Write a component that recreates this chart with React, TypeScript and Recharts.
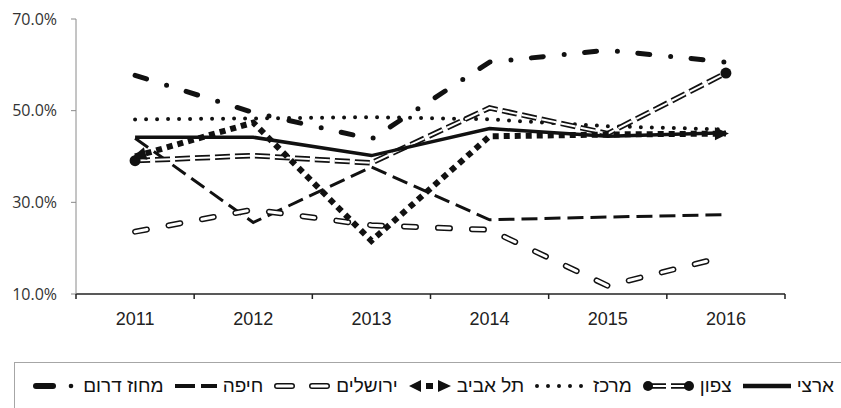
import React from 'react';
import { LineChart, Line, XAxis, YAxis } from 'recharts';

const years = ['2011', '2012', '2013', '2014', '2015', '2016'];

const national = [44.2, 44.2, 40.2, 46.1, 44.4, 45.2];
const north = [39.1, 40.2, 38.6, 50.6, 45.0, 58.2];
const center = [48.1, 48.3, 48.6, 48.1, 46.6, 45.9];
const telAviv = [40.0, 47.4, 21.6, 44.4, 44.8, 45.0];
const jerusalem = [23.6, 28.4, 25.0, 24.0, 11.8, 18.2];
const haifa = [44.0, 25.6, 37.7, 26.2, 26.8, 27.3];
const south = [57.7, 49.6, 43.8, 60.6, 63.2, 60.6];

const yTicks = [10, 30, 50, 70];

const labels = {
  national: 'ארצי',
  north: 'צפון',
  center: 'מרכז',
  telAviv: 'תל אביב',
  jerusalem: 'ירושלים',
  haifa: 'חיפה',
  south: 'מחוז דרום',
};

const data = years.map((year, i) => ({
  year,
  national: national[i],
  north: north[i],
  center: center[i],
  telAviv: telAviv[i],
  jerusalem: jerusalem[i],
  haifa: haifa[i],
  south: south[i],
}));

const W = 841;
const H = 408;
const MARGIN = { top: 19, right: 56, bottom: 84, left: 0 };
const Y_W = 76;
const X_H = 30;
const PLOT_W = W - MARGIN.left - MARGIN.right - Y_W;
const PLOT_BOTTOM = H - MARGIN.bottom - X_H;
const HALF = PLOT_W / years.length / 2;
const INK = '#111';

const YearTick = (props: any) => {
  const { x, payload, index } = props;
  const last = index === years.length - 1;
  return (
    <g>
      <line x1={x - HALF} y1={PLOT_BOTTOM} x2={x - HALF} y2={PLOT_BOTTOM + 5} stroke="#222" strokeWidth={1.5} />
      {last && <line x1={x + HALF} y1={PLOT_BOTTOM} x2={x + HALF} y2={PLOT_BOTTOM + 5} stroke="#222" strokeWidth={1.5} />}
      <text x={x} y={PLOT_BOTTOM + 31} textAnchor="middle" fill="#222" fontSize={18} fontFamily="'Liberation Sans', Arial, sans-serif">
        {payload.value}
      </text>
    </g>
  );
};

// round markers only at the two ends of the north line
const NorthDot = (props: any) => {
  const { cx, cy, index } = props;
  if (index !== 0 && index !== years.length - 1) return <g key={`n${index}`} />;
  return <circle key={`n${index}`} cx={cx} cy={cy} r={5.5} fill={INK} />;
};

// arrow heads at the two ends of the tel aviv line
const TelAvivDot = (props: any) => {
  const { cx, cy, index, points } = props;
  const n = years.length;
  if (index !== 0 && index !== n - 1) return <g key={`t${index}`} />;
  let dx = index === 0 ? -1 : 1;
  let dy = 0;
  if (points && points.length === n) {
    const a = index === 0 ? points[1] : points[n - 2];
    const b = index === 0 ? points[0] : points[n - 1];
    const len = Math.hypot(b.x - a.x, b.y - a.y) || 1;
    dx = (b.x - a.x) / len;
    dy = (b.y - a.y) / len;
  }
  const tipX = cx + dx * 3;
  const tipY = cy + dy * 3;
  const bx = tipX - dx * 14;
  const by = tipY - dy * 14;
  const px = -dy * 6.5;
  const py = dx * 6.5;
  return (
    <polygon
      key={`t${index}`}
      points={`${tipX},${tipY} ${bx + px},${by + py} ${bx - px},${by - py}`}
      fill={INK}
    />
  );
};

const Symbol = ({ kind }: { kind: string }) => {
  const h = 14;
  const m = h / 2;
  if (kind === 'national') {
    return (
      <svg width={48} height={h}><line x1={0} y1={m} x2={48} y2={m} stroke={INK} strokeWidth={4.5} /></svg>
    );
  }
  if (kind === 'north') {
    return (
      <svg width={51} height={h}>
        <line x1={5} y1={m} x2={46} y2={m} stroke={INK} strokeWidth={5.5} strokeDasharray="18 5" />
        <line x1={5} y1={m} x2={46} y2={m} stroke="#fff" strokeWidth={2} strokeDasharray="18 5" />
        <circle cx={5} cy={m} r={5} fill={INK} />
        <circle cx={46} cy={m} r={5} fill={INK} />
      </svg>
    );
  }
  if (kind === 'center') {
    return (
      <svg width={52} height={h}>
        <line x1={2} y1={m} x2={50} y2={m} stroke={INK} strokeWidth={4} strokeDasharray="0 11" strokeLinecap="round" />
      </svg>
    );
  }
  if (kind === 'telAviv') {
    return (
      <svg width={42} height={h}>
        <polygon points={`0,${m} 12,${m - 6} 12,${m + 6}`} fill={INK} />
        <rect x={17} y={m - 3} width={7} height={6} fill={INK} />
        <polygon points={`42,${m} 29,${m - 6} 29,${m + 6}`} fill={INK} />
      </svg>
    );
  }
  if (kind === 'jerusalem') {
    return (
      <svg width={56} height={h}>
        <line x1={3} y1={m} x2={53} y2={m} stroke={INK} strokeWidth={6} strokeDasharray="15 20" strokeLinecap="round" />
        <line x1={3} y1={m} x2={53} y2={m} stroke="#fff" strokeWidth={3} strokeDasharray="15 20" strokeLinecap="round" />
      </svg>
    );
  }
  if (kind === 'haifa') {
    return (
      <svg width={42} height={h}><line x1={0} y1={m} x2={42} y2={m} stroke={INK} strokeWidth={4} strokeDasharray="20 6" /></svg>
    );
  }
  return (
    <svg width={44} height={h}>
      <line x1={3} y1={m} x2={20} y2={m} stroke={INK} strokeWidth={6} strokeLinecap="round" />
      <circle cx={38} cy={m} r={2.3} fill={INK} />
    </svg>
  );
};

const legendOrder = ['national', 'north', 'center', 'telAviv', 'jerusalem', 'haifa', 'south'];

const LegendBox = () => (
  <div
    style={{
      position: 'absolute',
      left: 14,
      top: 362,
      width: 840,
      height: 60,
      border: '1px solid #a6a6a6',
      boxSizing: 'border-box',
    }}
  >
    <div
      dir="rtl"
      style={{
        position: 'absolute',
        right: 19,
        top: 12,
        display: 'flex',
        alignItems: 'center',
        gap: 11,
        fontFamily: "'Liberation Sans', Arial, sans-serif",
        fontSize: 19,
        color: '#111',
        whiteSpace: 'nowrap',
      }}
    >
      {legendOrder.map((k) => (
        <div key={k} style={{ display: 'flex', alignItems: 'center', gap: 6 }}>
          <span>{(labels as any)[k]}</span>
          <Symbol kind={k} />
        </div>
      ))}
    </div>
  </div>
);

export default function App() {
  return (
    <div style={{ position: 'absolute', left: 0, top: 0, width: W, height: H, background: '#fff', overflow: 'hidden' }}>
      <LineChart width={W} height={H} data={data} margin={MARGIN}>
        <XAxis
          dataKey="year"
          height={X_H}
          interval={0}
          padding={{ left: HALF, right: HALF }}
          axisLine={{ stroke: '#222', strokeWidth: 1.5 }}
          tickLine={false}
          tick={<YearTick />}
        />
        <YAxis
          width={Y_W}
          type="number"
          domain={[10, 70]}
          ticks={yTicks}
          interval={0}
          tickFormatter={(v: number) => `${v.toFixed(1)}%`}
          axisLine={{ stroke: '#8a8a8a' }}
          tickLine={{ stroke: '#8a8a8a' }}
          tickSize={5}
          tickMargin={14}
          tick={{ fill: '#333', fontSize: 16, fontFamily: "'Open Sans', sans-serif" }}
        />
        <Line dataKey="south" stroke={INK} strokeWidth={5} strokeDasharray="12 21 0 20.5" strokeLinecap="round" dot={false} activeDot={false} isAnimationActive={false} />
        <Line dataKey="haifa" stroke={INK} strokeWidth={3} strokeDasharray="16 7" dot={false} activeDot={false} isAnimationActive={false} />
        <Line dataKey="jerusalem" stroke={INK} strokeWidth={6} strokeDasharray="12 22" strokeLinecap="round" dot={false} activeDot={false} isAnimationActive={false} />
        <Line dataKey="jerusalem" stroke="#fff" strokeWidth={3} strokeDasharray="12 22" strokeLinecap="round" dot={false} activeDot={false} isAnimationActive={false} />
        <Line dataKey="center" stroke={INK} strokeWidth={4} strokeDasharray="0 11" strokeLinecap="round" dot={false} activeDot={false} isAnimationActive={false} />
        <Line dataKey="north" stroke={INK} strokeWidth={5.5} strokeDasharray="15 5" dot={false} activeDot={false} isAnimationActive={false} />
        <Line dataKey="north" stroke="#fff" strokeWidth={2} strokeDasharray="15 5" dot={<NorthDot />} activeDot={false} isAnimationActive={false} />
        <Line dataKey="telAviv" stroke={INK} strokeWidth={6} strokeDasharray="6 5" dot={<TelAvivDot />} activeDot={false} isAnimationActive={false} />
        <Line dataKey="national" stroke={INK} strokeWidth={3.5} dot={false} activeDot={false} isAnimationActive={false} />
      </LineChart>
      <LegendBox />
    </div>
  );
}
